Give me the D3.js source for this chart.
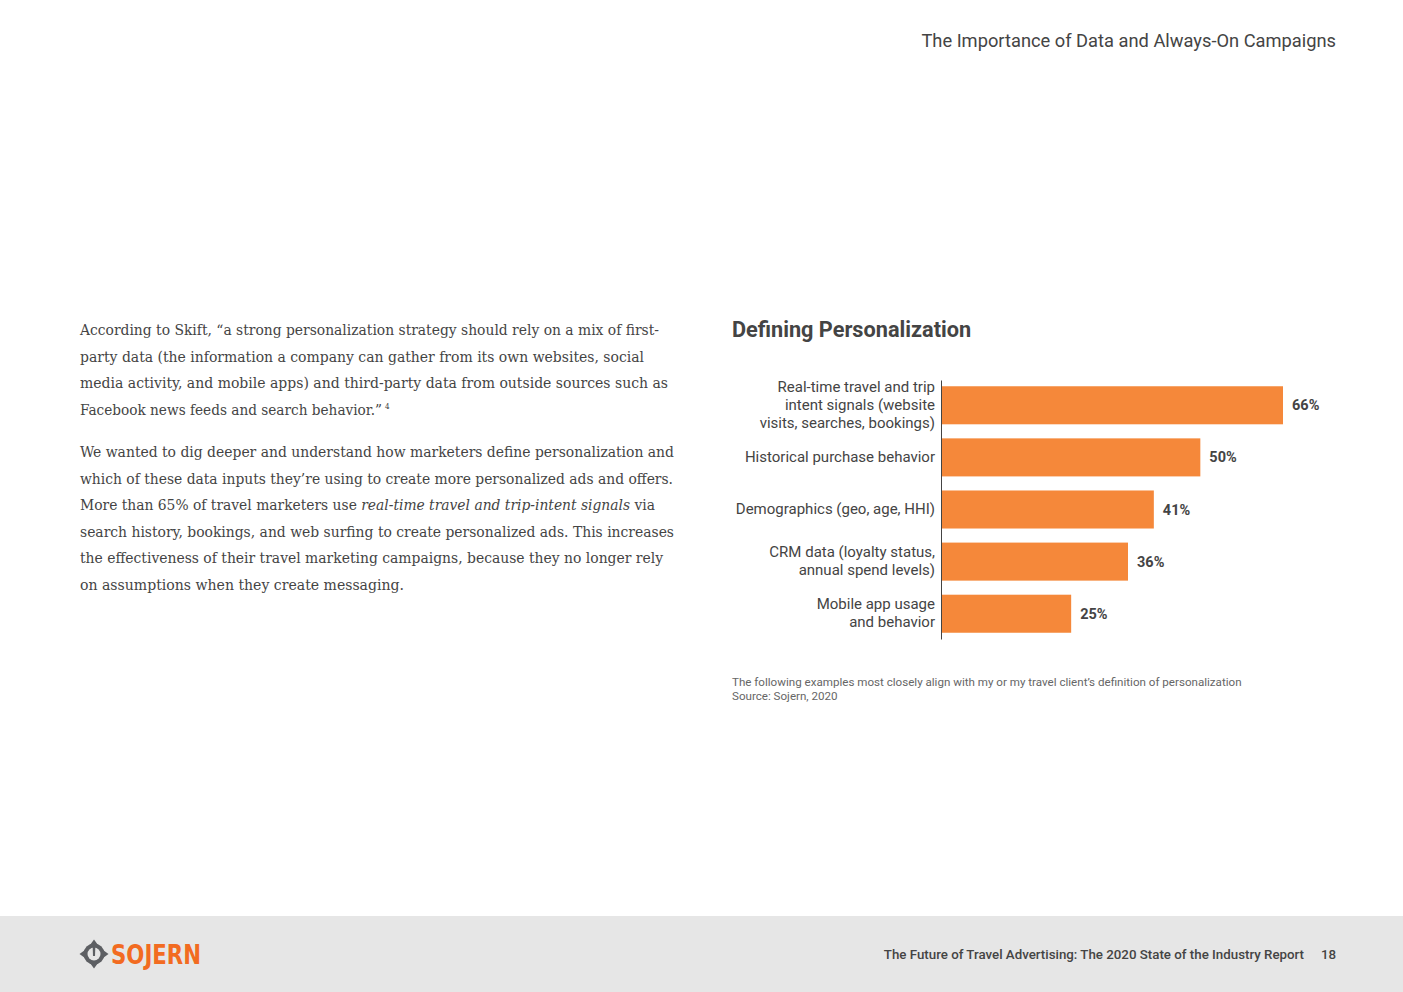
<!DOCTYPE html>
<html><head><meta charset="utf-8">
<script src="https://cdn.jsdelivr.net/npm/d3@7"></script>
<style>
html,body{margin:0;padding:0;background:#fff;}
svg{display:block;}
</style></head>
<body>
<svg id="page" width="1403" height="992"></svg>
<script>
// ---- data ----
const categories = [
  "Real-time travel and trip intent signals (website visits, searches, bookings)",
  "Historical purchase behavior",
  "Demographics (geo, age, HHI)",
  "CRM data (loyalty status, annual spend levels)",
  "Mobile app usage and behavior"
];
const categoryLines = [
  ["Real-time travel and trip", "intent signals (website", "visits, searches, bookings)"],
  ["Historical purchase behavior"],
  ["Demographics (geo, age, HHI)"],
  ["CRM data (loyalty status,", "annual spend levels)"],
  ["Mobile app usage", "and behavior"]
];
const values = [66, 50, 41, 36, 25];
const valueLabels = ["66%", "50%", "41%", "36%", "25%"];
const chartTitle = "Defining Personalization";
const headerTitle = "The Importance of Data and Always-On Campaigns";
const footnotes = [
  "The following examples most closely align with my or my travel client\u2019s definition of personalization",
  "Source: Sojern, 2020"
];
const footerText = "The Future of Travel Advertising: The 2020 State of the Industry Report";
const pageNumber = "18";
const para1 = [
  "According to Skift, \u201ca strong personalization strategy should rely on a mix of first-",
  "party data (the information a company can gather from its own websites, social",
  "media activity, and mobile apps) and third-party data from outside sources such as",
  "Facebook news feeds and search behavior.\u201d"
];
const para2 = [
  [["We wanted to dig deeper and understand how marketers define personalization and", false]],
  [["which of these data inputs they\u2019re using to create more personalized ads and offers.", false]],
  [["More than 65% of travel marketers use ", false], ["real-time travel and trip-intent signals", true], [" via", false]],
  [["search history, bookings, and web surfing to create personalized ads. This increases", false]],
  [["the effectiveness of their travel marketing campaigns, because they no longer rely", false]],
  [["on assumptions when they create messaging.", false]]
];
const para1Widths = [579, 564, 588, 302];
const para2Widths = [594, 593, 575, 594, 583, 324];

// ---- page ----
const svg = d3.select("#page");
const textColor = "#444444";
const sans = "Roboto, 'Noto Sans', sans-serif";
const serif = "'DejaVu Serif Condensed', 'DejaVu Serif', 'Liberation Serif', serif";

svg.append("text").attr("x", 1336).attr("y", 47).attr("text-anchor", "end")
  .attr("font-family", sans).attr("font-size", 18.3).attr("fill", "#444")
  .text(headerTitle);

// body text
function bodyLine(y, segs, w) {
  const t = svg.append("text").attr("x", 80).attr("y", y)
    .attr("font-family", serif).attr("font-size", 14.6).attr("fill", textColor)
    .style("font-stretch", "condensed");
  segs.forEach(([s, it]) => t.append("tspan").attr("font-style", it ? "italic" : "normal").text(s));
  if (w) t.attr("textLength", w).attr("lengthAdjust", "spacingAndGlyphs");
  return t;
}
para1.forEach((l, i) => {
  bodyLine(335 + i * 26.7, [[l, false]], para1Widths[i]);
});
svg.append("text").attr("x", 385).attr("y", 409).attr("font-family", serif)
  .attr("font-size", 8).attr("fill", textColor).text("4");
para2.forEach((segs, i) => {
  bodyLine(457 + i * 26.6, segs, para2Widths[i]);
});

// chart
svg.append("text").attr("x", 732).attr("y", 337)
  .attr("font-family", sans).attr("font-weight", 700).attr("font-size", 21.7)
  .attr("fill", "#444").text(chartTitle);

const x = d3.scaleLinear().domain([0, 66]).range([942, 1283]);
const y = d3.scaleBand().domain(categories).range([380, 639])
  .paddingInner(0.27).paddingOuter(0.12);

const g = svg.append("g");
g.selectAll("rect.bar").data(values).join("rect").attr("class", "bar")
  .attr("x", x(0)).attr("y", (d, i) => y(categories[i]))
  .attr("width", d => x(d) - x(0)).attr("height", y.bandwidth())
  .attr("fill", "#F5883A");

g.selectAll("text.val").data(values).join("text").attr("class", "val")
  .attr("x", d => x(d) + 9).attr("y", (d, i) => y(categories[i]) + y.bandwidth() / 2)
  .attr("dy", "0.35em").attr("font-family", sans).attr("font-weight", 700)
  .attr("font-size", 14.5).attr("fill", "#444").text((d, i) => valueLabels[i]);

// axis
const yAxis = d3.axisLeft(y).tickSize(0).tickFormat("");
const ag = svg.append("g").attr("transform", "translate(941,0)").call(yAxis);
ag.select(".domain").attr("stroke", "#444").attr("stroke-width", 1);

categories.forEach((c, i) => {
  const lines = categoryLines[i];
  const cy = y(c) + y.bandwidth() / 2;
  const lh = 18;
  const t = svg.append("text").attr("text-anchor", "end")
    .attr("font-family", sans).attr("font-size", 15).attr("fill", "#444");
  lines.forEach((l, j) => {
    t.append("tspan").attr("x", 935)
      .attr("y", cy + (j - (lines.length - 1) / 2) * lh - 1).attr("dy", "0.35em").text(l);
  });
});

footnotes.forEach((f, i) => {
  svg.append("text").attr("x", 732).attr("y", 686 + i * 14)
    .attr("font-family", sans).attr("font-size", 11.6).attr("fill", "#666").text(f);
});

// footer
svg.append("rect").attr("x", 0).attr("y", 916).attr("width", 1403).attr("height", 76).attr("fill", "#e6e6e6");
svg.append("text").attr("x", 1304).attr("y", 959).attr("text-anchor", "end")
  .attr("font-family", sans).attr("font-weight", 500).attr("font-size", 13.3).attr("fill", "#444").text(footerText);
svg.append("text").attr("x", 1336).attr("y", 959).attr("text-anchor", "end")
  .attr("font-family", sans).attr("font-weight", 500).attr("font-size", 13.3).attr("fill", "#444").text(pageNumber);

// logo
const lg = svg.append("g").attr("transform", "translate(94,954)");
lg.append("path").attr("d", "M0,-14.5 L4,-9 L9,-4 L14.5,0 L9,4 L4,9 L0,14.5 L-4,9 L-9,4 L-14.5,0 L-9,-4 L-4,-9 Z").attr("fill", "#5d5f63");
lg.append("circle").attr("r", 10.5).attr("fill", "#5d5f63");
lg.append("circle").attr("r", 6.5).attr("fill", "#e6e6e6");
lg.append("path").attr("d", "M-1.3,-7 L1.3,-7 L1,2 L-1,2 Z").attr("fill", "#5d5f63");
svg.append("text").attr("x", 111).attr("y", 964)
  .attr("font-family", "'DejaVu Sans', sans-serif").attr("font-weight", 700).attr("font-size", 26)
  .attr("fill", "#F26B21").attr("textLength", 90).attr("lengthAdjust", "spacingAndGlyphs").text("SOJERN");
</script>
</body></html>
